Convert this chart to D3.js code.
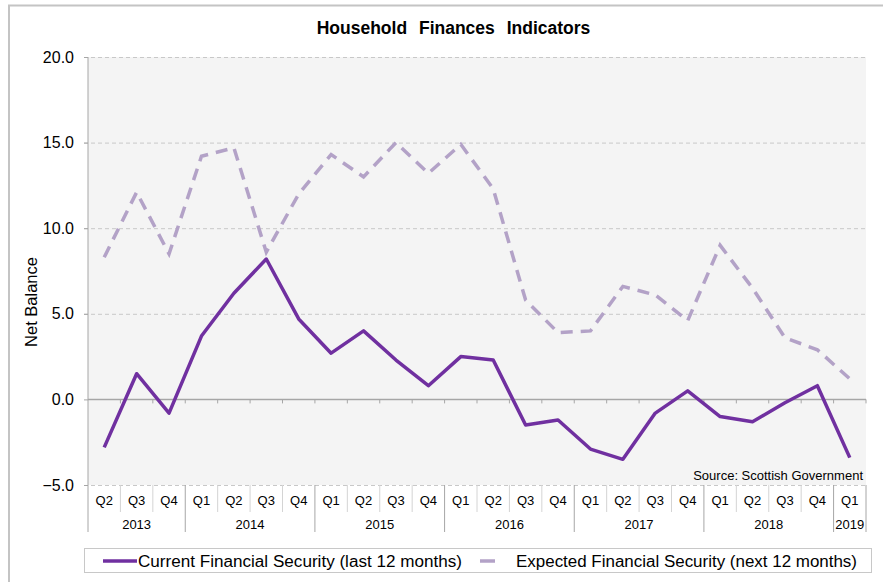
<!DOCTYPE html>
<html>
<head>
<meta charset="utf-8">
<script src="https://cdn.jsdelivr.net/npm/d3@7"></script>
<style>
  body { margin: 0; background: #fff; }
  svg { display: block; font-family: "Liberation Sans", Arial, sans-serif; }
</style>
</head>
<body>
<div id="chart"></div>
<script>
'use strict';

// quarters from 2013 Q2 to 2019 Q1
var quarterLabels = ["Q2", "Q3", "Q4",
  "Q1", "Q2", "Q3", "Q4",
  "Q1", "Q2", "Q3", "Q4",
  "Q1", "Q2", "Q3", "Q4",
  "Q1", "Q2", "Q3", "Q4",
  "Q1", "Q2", "Q3", "Q4",
  "Q1"];
var yearLabels = ["2013", "2014", "2015", "2016", "2017", "2018", "2019"];
var quartersPerYear = [3, 4, 4, 4, 4, 4, 1];

var currentSecurity = [-2.8, 1.5, -0.8, 3.7, 6.2, 8.2, 4.7, 2.7, 4.0, 2.3, 0.8, 2.5,
  2.3, -1.5, -1.2, -2.9, -3.5, -0.8, 0.5, -1.0, -1.3, -0.2, 0.8, -3.4];
var expectedSecurity = [8.3, 12.1, 8.5, 14.2, 14.7, 8.6, 12.0, 14.3, 13.0, 15.0, 13.2, 14.9,
  12.3, 5.8, 3.9, 4.0, 6.6, 6.1, 4.6, 9.0, 6.5, 3.6, 2.9, 1.2];

var yTicks = [-5, 0, 5, 10, 15, 20];

function householdChart() {

  var scope = {};

  scope.width = 883;
  scope.height = 582;
  scope.plot = { left: 88, right: 866, top: 57, bottom: 485 };

  scope.xScale = d3.scaleBand()
    .domain(d3.range(quarterLabels.length))
    .range([scope.plot.left, scope.plot.right]);
  scope.yScale = d3.scaleLinear()
    .domain([-5, 20])
    .range([scope.plot.bottom, scope.plot.top]);

  var svg = d3.select("#chart").append("svg")
    .attr("width", scope.width)
    .attr("height", scope.height);

  // outer frame (only top and left edges show in the crop)
  svg.append("path")
    .attr("d", "M9,600 V5.5 H900")
    .attr("fill", "none")
    .attr("stroke", "#c4c4c4")
    .attr("stroke-width", 2);

  svg.append("text")
    .attr("x", 453.5)
    .attr("y", 34)
    .attr("text-anchor", "middle")
    .style("font-size", "17.5px")
    .style("font-weight", "bold")
    .style("word-spacing", "7px")
    .text("Household Finances Indicators");

  svg.append("rect")
    .attr("x", scope.plot.left)
    .attr("y", scope.plot.top)
    .attr("width", scope.plot.right - scope.plot.left)
    .attr("height", scope.plot.bottom - scope.plot.top)
    .attr("fill", "#f4f4f4");

  // y axis with dashed gridlines
  var yAxis = d3.axisLeft(scope.yScale)
    .tickValues(yTicks)
    .tickSize(-(scope.plot.right - scope.plot.left + 4))
    .tickPadding(10)
    .tickFormat(d3.format(".1f"));

  var yGroup = svg.append("g")
    .attr("transform", "translate(" + (scope.plot.left - 4) + ",0)")
    .call(yAxis);
  yGroup.select(".domain").remove();
  yGroup.selectAll(".tick line")
    .attr("stroke", "#c8c8c8")
    .attr("stroke-dasharray", "4,3")
    .filter(function(d) { return d === 0; })
    .remove();
  yGroup.selectAll(".tick text")
    .attr("fill", "#000")
    .style("font-size", "16px");
  yGroup.selectAll(".tick")
    .append("line")
    .attr("x1", 0).attr("x2", 4)
    .attr("stroke", "#a6a6a6");

  svg.append("line")
    .attr("x1", scope.plot.left).attr("x2", scope.plot.left)
    .attr("y1", scope.plot.top).attr("y2", 532)
    .attr("stroke", "#a6a6a6");

  // zero line with category ticks
  var bounds = d3.range(quarterLabels.length + 1).map(function(i) {
    return scope.plot.left + i * scope.xScale.step();
  });
  var zeroY = scope.yScale(0);

  svg.append("line")
    .attr("x1", scope.plot.left).attr("x2", scope.plot.right)
    .attr("y1", zeroY).attr("y2", zeroY)
    .attr("stroke", "#a6a6a6")
    .attr("stroke-width", 1.5);

  svg.append("g").selectAll("line")
    .data(bounds.slice(1))
    .enter()
    .append("line")
    .attr("x1", function(d) { return d; })
    .attr("x2", function(d) { return d; })
    .attr("y1", zeroY)
    .attr("y2", zeroY + 4)
    .attr("stroke", "#a6a6a6");

  svg.append("text")
    .attr("transform", "translate(37,302) rotate(-90)")
    .attr("text-anchor", "middle")
    .style("font-size", "16.5px")
    .text("Net Balance");

  svg.append("text")
    .attr("x", 863)
    .attr("y", 480)
    .attr("text-anchor", "end")
    .style("font-size", "13px")
    .text("Source: Scottish Government");

  // quarter and year labels
  var yearStarts = [];
  var acc = 0;
  quartersPerYear.forEach(function(n) {
    yearStarts.push(acc);
    acc += n;
  });

  function isYearEdge(i) {
    return yearStarts.indexOf(i) >= 0 || i === quarterLabels.length;
  }

  svg.append("g").selectAll("line")
    .data(bounds.slice(1))
    .enter()
    .append("line")
    .attr("x1", function(d) { return d; })
    .attr("x2", function(d) { return d; })
    .attr("y1", scope.plot.bottom)
    .attr("y2", function(d, i) { return isYearEdge(i + 1) ? 532 : 512; })
    .attr("stroke", function(d, i) { return isYearEdge(i + 1) ? "#a6a6a6" : "#d4d4d4"; });

  svg.append("g").selectAll("text")
    .data(quarterLabels)
    .enter()
    .append("text")
    .attr("x", function(d, i) { return scope.xScale(i) + scope.xScale.bandwidth() / 2; })
    .attr("y", 505)
    .attr("text-anchor", "middle")
    .style("font-size", "13px")
    .text(function(d) { return d; });

  svg.append("g").selectAll("text")
    .data(yearLabels)
    .enter()
    .append("text")
    .attr("x", function(d, i) {
      return scope.plot.left + (yearStarts[i] + quartersPerYear[i] / 2) * scope.xScale.step();
    })
    .attr("y", 529)
    .attr("text-anchor", "middle")
    .style("font-size", "13px")
    .text(function(d) { return d; });

  // series lines
  scope.line = d3.line()
    .x(function(d, i) { return scope.xScale(i) + scope.xScale.bandwidth() / 2; })
    .y(function(d) { return scope.yScale(d); });

  svg.append("path")
    .attr("d", scope.line(expectedSecurity))
    .attr("fill", "none")
    .attr("stroke", "#b3a2c7")
    .attr("stroke-width", 3.5)
    .attr("stroke-dasharray", "12,8");

  svg.append("path")
    .attr("d", scope.line(currentSecurity))
    .attr("fill", "none")
    .attr("stroke", "#7030a0")
    .attr("stroke-width", 3.5)
    .attr("stroke-linejoin", "round");

  // legend
  var legend = svg.append("g");
  legend.append("rect")
    .attr("x", 84.5).attr("y", 548.5)
    .attr("width", 787).attr("height", 24)
    .attr("fill", "#fff")
    .attr("stroke", "#c8c8c8");
  legend.append("line")
    .attr("x1", 103).attr("x2", 137)
    .attr("y1", 561).attr("y2", 561)
    .attr("stroke", "#7030a0")
    .attr("stroke-width", 3.5);
  legend.append("text")
    .attr("x", 138).attr("y", 566.5)
    .style("font-size", "16px")
    .attr("textLength", 324)
    .attr("lengthAdjust", "spacingAndGlyphs")
    .text("Current Financial Security (last 12 months)");
  legend.append("line")
    .attr("x1", 480).attr("x2", 495)
    .attr("y1", 561).attr("y2", 561)
    .attr("stroke", "#b3a2c7")
    .attr("stroke-width", 3.5);
  legend.append("text")
    .attr("x", 516).attr("y", 566.5)
    .style("font-size", "16px")
    .attr("textLength", 341)
    .attr("lengthAdjust", "spacingAndGlyphs")
    .text("Expected Financial Security (next 12 months)");
}

householdChart();
</script>
</body>
</html>
